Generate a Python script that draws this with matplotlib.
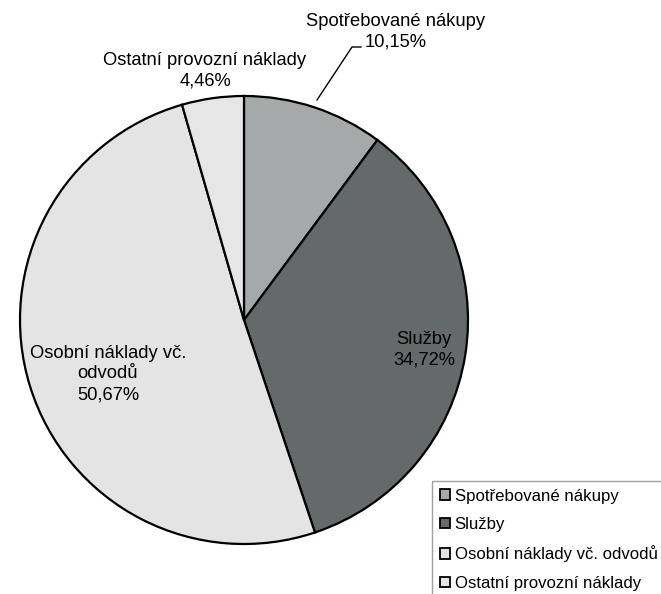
import matplotlib
matplotlib.use("Agg")
import matplotlib.pyplot as plt

categories = ["Spotřebované nákupy", "Služby", "Osobní náklady vč. odvodů", "Ostatní provozní náklady"]
shares = [10.15, 34.72, 50.67, 4.46]
pct_labels = ["10,15%", "34,72%", "50,67%", "4,46%"]
colors = ["#a6a9a9", "#646969", "#e4e4e4", "#e6e6e6"]

plt.rcParams["font.family"] = ["Liberation Sans", "DejaVu Sans"]

W, H = 661, 594
fig = plt.figure(figsize=(W / 100, H / 100), dpi=100)
ax = fig.add_axes([0, 0, 1, 1])

cx, cy, R = 244, H - 320, 224
ax.pie(shares, colors=colors, startangle=90, counterclock=False,
       center=(cx, cy), radius=R, frame=True,
       wedgeprops=dict(edgecolor="black", linewidth=1.6))
ax.set_xlim(0, W)
ax.set_ylim(0, H)
ax.set_aspect("equal")
ax.axis("off")

fs = 13.2
ls = 1.27
# data labels
ax.text(396, H - 32, f"{categories[0]}\n{pct_labels[0]}", ha="center", va="center",
        fontsize=fs, linespacing=ls)
ax.plot([317, 352, 361], [H - 100, H - 47, H - 47], color="black", lw=1)
ax.text(424, H - 350, f"Služby\n{pct_labels[1]}", ha="center", va="center",
        fontsize=fs, linespacing=ls)
ax.text(108, H - 374, f"Osobní náklady vč.\nodvodů\n{pct_labels[2]}", ha="center",
        va="center", fontsize=fs, linespacing=ls)
ax.text(205, H - 71, f"{categories[3]}\n{pct_labels[3]}", ha="center", va="center",
        fontsize=fs, linespacing=ls)

handles = [plt.Rectangle((0, 0), 1, 1, facecolor=c, edgecolor="black", lw=1.3)
           for c in colors]
leg = fig.legend(handles, categories, loc="upper left",
                 bbox_to_anchor=(432 / W, 1 - 481 / H), borderaxespad=0,
                 fontsize=12.1, frameon=True, fancybox=False,
                 handlelength=0.6, handleheight=0.6, handletextpad=0.3,
                 labelspacing=0.8, borderpad=0.45)
leg.get_frame().set_edgecolor("#888888")
leg.get_frame().set_linewidth(1)

fig.savefig("out.png", dpi=100)
